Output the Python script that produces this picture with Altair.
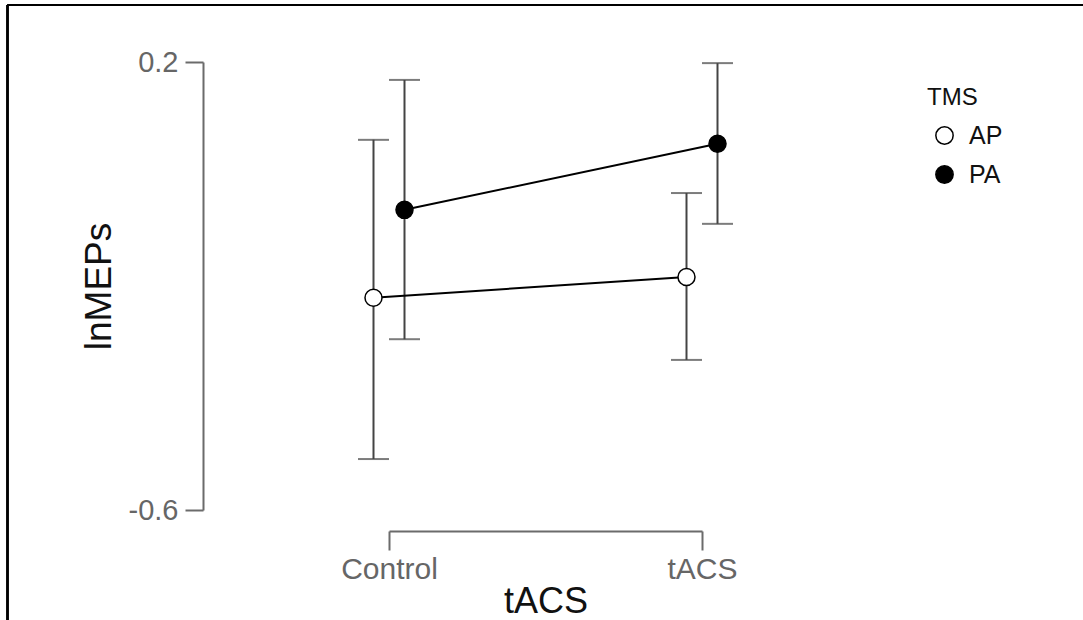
import altair as alt
import pandas as pd

# ---- data ----
conditions = ["Control", "Control", "tACS", "tACS"]
tms = ["AP", "PA", "AP", "PA"]
means = [-0.221, -0.064, -0.184, 0.054]
lower = [-0.509, -0.295, -0.332, -0.089]
upper = [0.061, 0.168, -0.034, 0.198]

df = pd.DataFrame({"tACS": conditions, "TMS": tms, "mean": means,
                   "lo": lower, "hi": upper})

FONT = "Liberation Sans"
OFFS = {"AP": -15.5, "PA": 15.5}

xenc = alt.X("tACS:N", scale=alt.Scale(type="point", padding=0),
             axis=alt.Axis(title="tACS", offset=21, tickSize=19, labelPadding=4,
                           labelFontSize=30, labelColor="#666666", labelAngle=0,
                           titleFontSize=36, titleColor="#111111", titleFontWeight="normal",
                           titlePadding=0, domainColor="#6b6b6b", tickColor="#6b6b6b",
                           domainWidth=2, tickWidth=2, grid=False))
yscale = alt.Scale(domain=[-0.6, 0.2], nice=False, zero=False)
yenc = alt.Y("mean:Q", scale=yscale,
             axis=alt.Axis(title="lnMEPs", values=[-0.6, 0.2],
                           labelExpr="datum.value < 0 ? '-' + format(-datum.value, '.1f') : format(datum.value, '.1f')",
                           offset=186, tickSize=18, labelPadding=7,
                           labelFontSize=29, labelColor="#666666",
                           titleFontSize=37, titleColor="#111111", titleFontWeight="normal",
                           titlePadding=10, domainColor="#6b6b6b", tickColor="#6b6b6b",
                           domainWidth=2, tickWidth=2, grid=False))

base = alt.Chart(df)
err_layers, line_layers, point_layers = [], [], []
for g in ["AP", "PA"]:
    b = base.transform_filter(alt.datum.TMS == g)
    off = OFFS[g]
    err_layers.append(
        b.mark_rule(color="#444444", strokeWidth=2, xOffset=off).encode(
            x=xenc, y=alt.Y("lo:Q", scale=yscale), y2="hi:Q"))
    for f in ["lo", "hi"]:
        err_layers.append(
            b.mark_tick(color="#444444", thickness=2, size=31, orient="horizontal",
                        xOffset=off).encode(x=xenc, y=alt.Y(f"{f}:Q", scale=yscale)))
    line_layers.append(
        b.mark_line(color="black", strokeWidth=2, xOffset=off).encode(x=xenc, y=yenc))
    point_layers.append(
        b.mark_circle(size=290, stroke="black", strokeWidth=1.5, opacity=1,
                      xOffset=off).encode(
            x=xenc, y=yenc,
            fill=alt.Fill("TMS:N",
                          scale=alt.Scale(domain=["AP", "PA"], range=["white", "black"]),
                          legend=alt.Legend(title="TMS", orient="none", legendX=538,
                                            legendY=24, symbolType="circle",
                                            symbolSize=300, symbolStrokeColor="black",
                                            symbolStrokeWidth=1.5, titleFontSize=24,
                                            labelFontSize=25, titleFontWeight="normal",
                                            titleColor="#111111", labelColor="#111111",
                                            titlePadding=13, rowPadding=13,
                                            symbolOffset=5, labelOffset=12, padding=0))))

frame_left = alt.Chart(df).mark_rule(color="black", strokeWidth=2).encode(
    x=alt.value(-381.5), y=alt.value(-57), y2=alt.value(600))
frame_top = alt.Chart(df).mark_rule(color="black", strokeWidth=2).encode(
    x=alt.value(-381.5), x2=alt.value(720), y=alt.value(-57))

chart = alt.layer(frame_left, frame_top, *err_layers, *line_layers, *point_layers).properties(
    width=313, height=448,
    autosize=alt.AutoSizeParams(type="none"),
    padding={"left": 389, "top": 62, "right": 381, "bottom": 110},
).configure(font=FONT, background="white").configure_view(stroke=None, strokeWidth=0)

chart.save("out.html", embed_options={"renderer": "svg", "actions": False})
